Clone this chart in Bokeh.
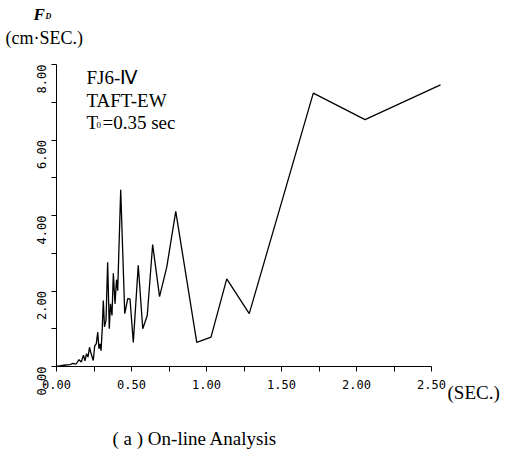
import math
from bokeh.plotting import figure
from bokeh.models import Range1d, FixedTicker, PrintfTickFormatter, Label
from bokeh.embed import file_html
from bokeh.resources import INLINE

# ---- data ----
period = [0.00, 0.03, 0.06, 0.09, 0.11, 0.13, 0.15, 0.165, 0.18, 0.19, 0.20, 0.21,
          0.22, 0.23, 0.245, 0.255, 0.265, 0.275, 0.283, 0.29, 0.297, 0.305, 0.312,
          0.32, 0.33, 0.341, 0.352, 0.36, 0.37, 0.379, 0.39, 0.40, 0.408, 0.428,
          0.455, 0.475, 0.49, 0.512, 0.545, 0.575, 0.605, 0.641, 0.687, 0.735,
          0.795, 0.935, 1.03, 1.135, 1.285, 1.712, 2.057, 2.56]
fd = [0.00, 0.02, 0.04, 0.05, 0.08, 0.06, 0.18, 0.12, 0.30, 0.15, 0.34, 0.25,
      0.51, 0.35, 0.16, 0.55, 0.60, 0.91, 0.47, 0.60, 0.42, 1.00, 1.75,
      1.05, 1.22, 2.76, 1.00, 1.66, 1.35, 2.47, 1.66, 2.30, 2.01, 4.68,
      1.40, 1.80, 1.79, 0.64, 2.68, 1.00, 1.35, 3.23, 1.85, 2.63,
      4.11, 0.64, 0.78, 2.32, 1.40, 7.24, 6.54, 7.46]

x_major = [0.0, 0.5, 1.0, 1.5, 2.0, 2.5]
x_minor = [0.25, 0.75, 1.25, 1.75, 2.25]
y_major = [0.0, 2.0, 4.0, 6.0, 8.0]
y_minor = [1.0, 3.0, 5.0, 7.0]

# ---- layout (pixels) ----
W, H = 508, 459
LEFT, RIGHT_PX, TOP, BOTTOM_PX = 56, 446, 64, 366
X0, X1 = 0.0, 2.6
Y0, Y1 = 0.0, 8.0

p = figure(width=W, height=H, output_backend="svg", toolbar_location=None,
           x_range=Range1d(X0, X1), y_range=Range1d(Y0, Y1),
           min_border_left=LEFT, min_border_right=W - RIGHT_PX,
           min_border_top=TOP, min_border_bottom=H - BOTTOM_PX)
p.outline_line_color = None
p.xgrid.visible = False
p.ygrid.visible = False
p.background_fill_color = "white"
p.border_fill_color = "white"

p.line(period, fd, line_color="black", line_width=1.3)

tick_font = "DejaVu Sans Mono"

ax = p.xaxis[0]
ax.bounds = (0, 2.5)
ax.ticker = FixedTicker(ticks=x_major, minor_ticks=x_minor)
ax.formatter = PrintfTickFormatter(format="%.2f")
ax.major_tick_in = 0
ax.major_tick_out = 5
ax.minor_tick_in = 0
ax.minor_tick_out = 5
ax.axis_line_color = "black"
ax.major_label_text_font = tick_font
ax.major_label_text_font_size = "12px"
ax.major_label_text_color = "black"
ax.major_label_standoff = 8

ay = p.yaxis[0]
ay.bounds = (0, 8)
ay.ticker = FixedTicker(ticks=y_major, minor_ticks=y_minor)
ay.formatter = PrintfTickFormatter(format="%.2f")
ay.major_tick_in = 0
ay.major_tick_out = 5
ay.minor_tick_in = 0
ay.minor_tick_out = 5
ay.major_label_orientation = math.pi / 2
ay.major_label_text_font = tick_font
ay.major_label_text_font_size = "12px"
ay.major_label_text_color = "black"
ay.major_label_standoff = 10

serif = "Liberation Serif"

def lab(text, px, py, size, style="normal", place=None, font=serif):
    l = Label(x=px, y=py, x_units="canvas", y_units="canvas",
              text=text, text_font=font,
              text_font_size=f"{size}px", text_font_style=style,
              text_align="left", text_baseline="alphabetic",
              text_color="black")
    if place is None:
        p.add_layout(l)
    else:
        p.add_layout(l, place)

# y-axis title (outside the frame)
lab("F", 33, 14, 17, "bold italic", "above")
lab("D", 45, 16, 8, "bold italic", "above")
lab("(cm\u00b7SEC.)", 5, 37, 18, place="above")

# info block (inside the frame)
lab("FJ6-\u2163", 86, 77, 19)
lab("TAFT-EW", 86, 100, 19)
lab("T", 86, 122, 19)
lab("0", 96, 124, 9)
lab("=0.35 sec", 102, 122, 19)

# x-axis unit
lab("(SEC.)", 447, 392, 19, place="right")

# caption
lab("( a )   On-line Analysis", 112, 438, 19, place="below")

open("out.html", "w").write(file_html(p, INLINE))
